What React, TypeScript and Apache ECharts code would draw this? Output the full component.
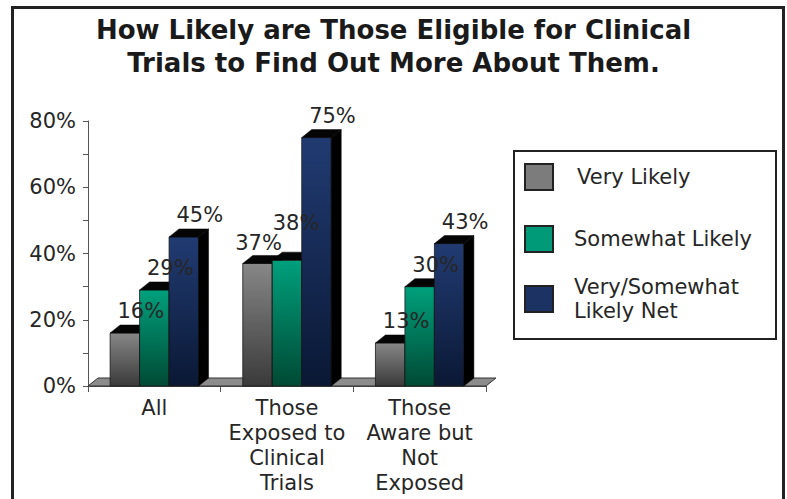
import React, { useEffect, useRef } from 'react';
import * as echarts from 'echarts';

const categories = ['All', 'Those\nExposed to\nClinical\nTrials', 'Those\nAware but\nNot\nExposed'];
const seriesNames = ['Very Likely', 'Somewhat Likely', 'Very/Somewhat Likely Net'];
const veryLikely = [16, 37, 13];
const somewhatLikely = [29, 38, 30];
const likelyNet = [45, 75, 43];
const yTicks = [0, 20, 40, 60, 80];

const FONT = '"DejaVu Sans", Verdana, sans-serif';
const TEXT = '#262626';
const palettes = [
  { top: '#878787', bottom: '#3a3a3a', flat: '#7c7c7c' },
  { top: '#00a07c', bottom: '#004a34', flat: '#009a78' },
  { top: '#213b72', bottom: '#0a1834', flat: '#1b3262' },
];
const DEPTH_X = 10;
const DEPTH_Y = 8;
const GROUP_FRACTION = 2 / 3;
// manual label nudges (series-category)
const labelNudge: Record<string, [number, number]> = { '0-1': [-15, 2], '1-1': [-7, -15] };

const makeBarRenderer = (k: number) => (params: any, api: any) => {
  const cat = api.value(0);
  const v = api.value(1);
  const base = api.coord([cat, 0]);
  const top = api.coord([cat, v]);
  const band = api.size([1, 0])[0];
  const bw = (band * GROUP_FRACTION) / 3;
  const x0 = base[0] - 1.5 * bw + k * bw;
  const by = base[1];
  const ty = top[1];
  const p = palettes[k];
  const nudge = labelNudge[`${k}-${cat}`] || [0, 0];
  return {
    type: 'group',
    children: [
      {
        type: 'rect',
        shape: { x: x0, y: ty, width: bw, height: by - ty },
        style: {
          fill: new echarts.graphic.LinearGradient(0, 0, 0, 1, [
            { offset: 0, color: p.top },
            { offset: 1, color: p.bottom },
          ]),
          stroke: '#1a1a1a',
          lineWidth: 0.8,
        },
      },
      {
        type: 'polygon',
        shape: { points: [[x0, ty], [x0 + DEPTH_X, ty - DEPTH_Y], [x0 + bw + DEPTH_X, ty - DEPTH_Y], [x0 + bw, ty]] },
        style: { fill: '#050505', stroke: '#050505', lineWidth: 0.5 },
      },
      {
        type: 'polygon',
        shape: { points: [[x0 + bw, ty], [x0 + bw + DEPTH_X, ty - DEPTH_Y], [x0 + bw + DEPTH_X, by - DEPTH_Y], [x0 + bw, by]] },
        style: { fill: '#000', stroke: '#000', lineWidth: 0.5 },
      },
      {
        type: 'text',
        z2: 100,
        x: x0 + bw / 2 + 16 + nudge[0],
        y: ty - 22 + nudge[1],
        style: {
          text: v + '%',
          fontSize: 21,
          fontFamily: FONT,
          fill: TEXT,
          align: 'center',
          verticalAlign: 'middle',
        },
      },
    ],
  };
};

const floorRenderer = (params: any, api: any) => {
  const n = categories.length;
  const band = api.size([1, 0])[0];
  const first = api.coord([0, 0]);
  const last = api.coord([n - 1, 0]);
  const L = first[0] - band / 2;
  const R = last[0] + band / 2;
  const y = first[1];
  return {
    type: 'polygon',
    shape: { points: [[L, y], [R, y], [R + DEPTH_X, y - DEPTH_Y], [L + DEPTH_X, y - DEPTH_Y]] },
    style: { fill: '#8c8c8c', stroke: '#333', lineWidth: 1 },
  };
};

const legendTops = [163, 225, 263];
const legendTextPad = [[0, 0, 0, 19], [0, 0, 0, 16], [24, 0, 0, 16]];

export default function App() {
  const ref = useRef<HTMLDivElement>(null);
  useEffect(() => {
    if (!ref.current) return;
    const chart = echarts.init(ref.current, undefined, { renderer: 'svg' });
    const values = [veryLikely, somewhatLikely, likelyNet];
    const option: any = {
      animation: false,
      backgroundColor: '#fff',
      title: {
        text: 'How Likely are Those Eligible for Clinical\nTrials to Find Out More About Them.',
        left: 'center',
        top: 13,
        padding: 0,
        textStyle: { fontFamily: FONT, fontWeight: 'bold', fontSize: 26, lineHeight: 33, color: '#1a1a1a' },
      },
      graphic: [
        { type: 'rect', z: 0, shape: { x: 12.5, y: 7.5, width: 771, height: 520 }, style: { fill: 'none', stroke: '#222', lineWidth: 3 } },
        { type: 'rect', z: 0, shape: { x: 514, y: 151, width: 262, height: 188 }, style: { fill: '#fff', stroke: '#222', lineWidth: 2 } },
      ],
      legend: seriesNames.map((name, i) => ({
        left: 524,
        top: legendTops[i],
        padding: 0,
        selectedMode: false,
        icon: 'rect',
        itemWidth: 28,
        itemHeight: 26,
        data: [{ name, itemStyle: { color: palettes[i].flat, borderColor: '#222', borderWidth: 2 } }],
        formatter: (n: string) => n.replace('Very/Somewhat ', 'Very/Somewhat\n'),
        textStyle: { fontFamily: FONT, fontSize: 21, lineHeight: 24, color: TEXT, padding: legendTextPad[i] },
      })),
      grid: { left: 88, right: 301, top: 121, bottom: 113, containLabel: false },
      xAxis: {
        type: 'category',
        data: categories,
        axisLine: { lineStyle: { color: '#555', width: 1 } },
        axisTick: { show: true, length: 6, lineStyle: { color: '#555' } },
        axisLabel: { interval: 0, fontFamily: FONT, fontSize: 21, lineHeight: 25, margin: 9, color: TEXT },
      },
      yAxis: {
        type: 'value',
        min: yTicks[0],
        max: yTicks[yTicks.length - 1],
        interval: yTicks[1] - yTicks[0],
        axisLine: { show: true, lineStyle: { color: '#555', width: 1 } },
        axisTick: { show: true, length: 5, lineStyle: { color: '#555' } },
        minorTick: { show: true, splitNumber: 2, length: 5, lineStyle: { color: '#555' } },
        splitLine: { show: false },
        axisLabel: { formatter: '{value}%', fontFamily: FONT, fontSize: 21, margin: 12, color: TEXT },
      },
      series: [
        {
          type: 'custom',
          name: 'floor',
          silent: true,
          data: [[0, 0]],
          encode: { x: 0, y: 1 },
          renderItem: floorRenderer,
        },
        ...seriesNames.map((name, k) => ({
          type: 'custom',
          name,
          silent: true,
          itemStyle: { color: palettes[k].flat },
          data: values[k].map((v, i) => [i, v]),
          encode: { x: 0, y: 1 },
          renderItem: makeBarRenderer(k),
        })),
      ],
    };
    chart.setOption(option);
    return () => chart.dispose();
  }, []);
  return (
    <div
      ref={ref}
      style={{ position: 'absolute', left: 0, top: 0, width: 787, height: 499, background: '#fff' }}
    />
  );
}
